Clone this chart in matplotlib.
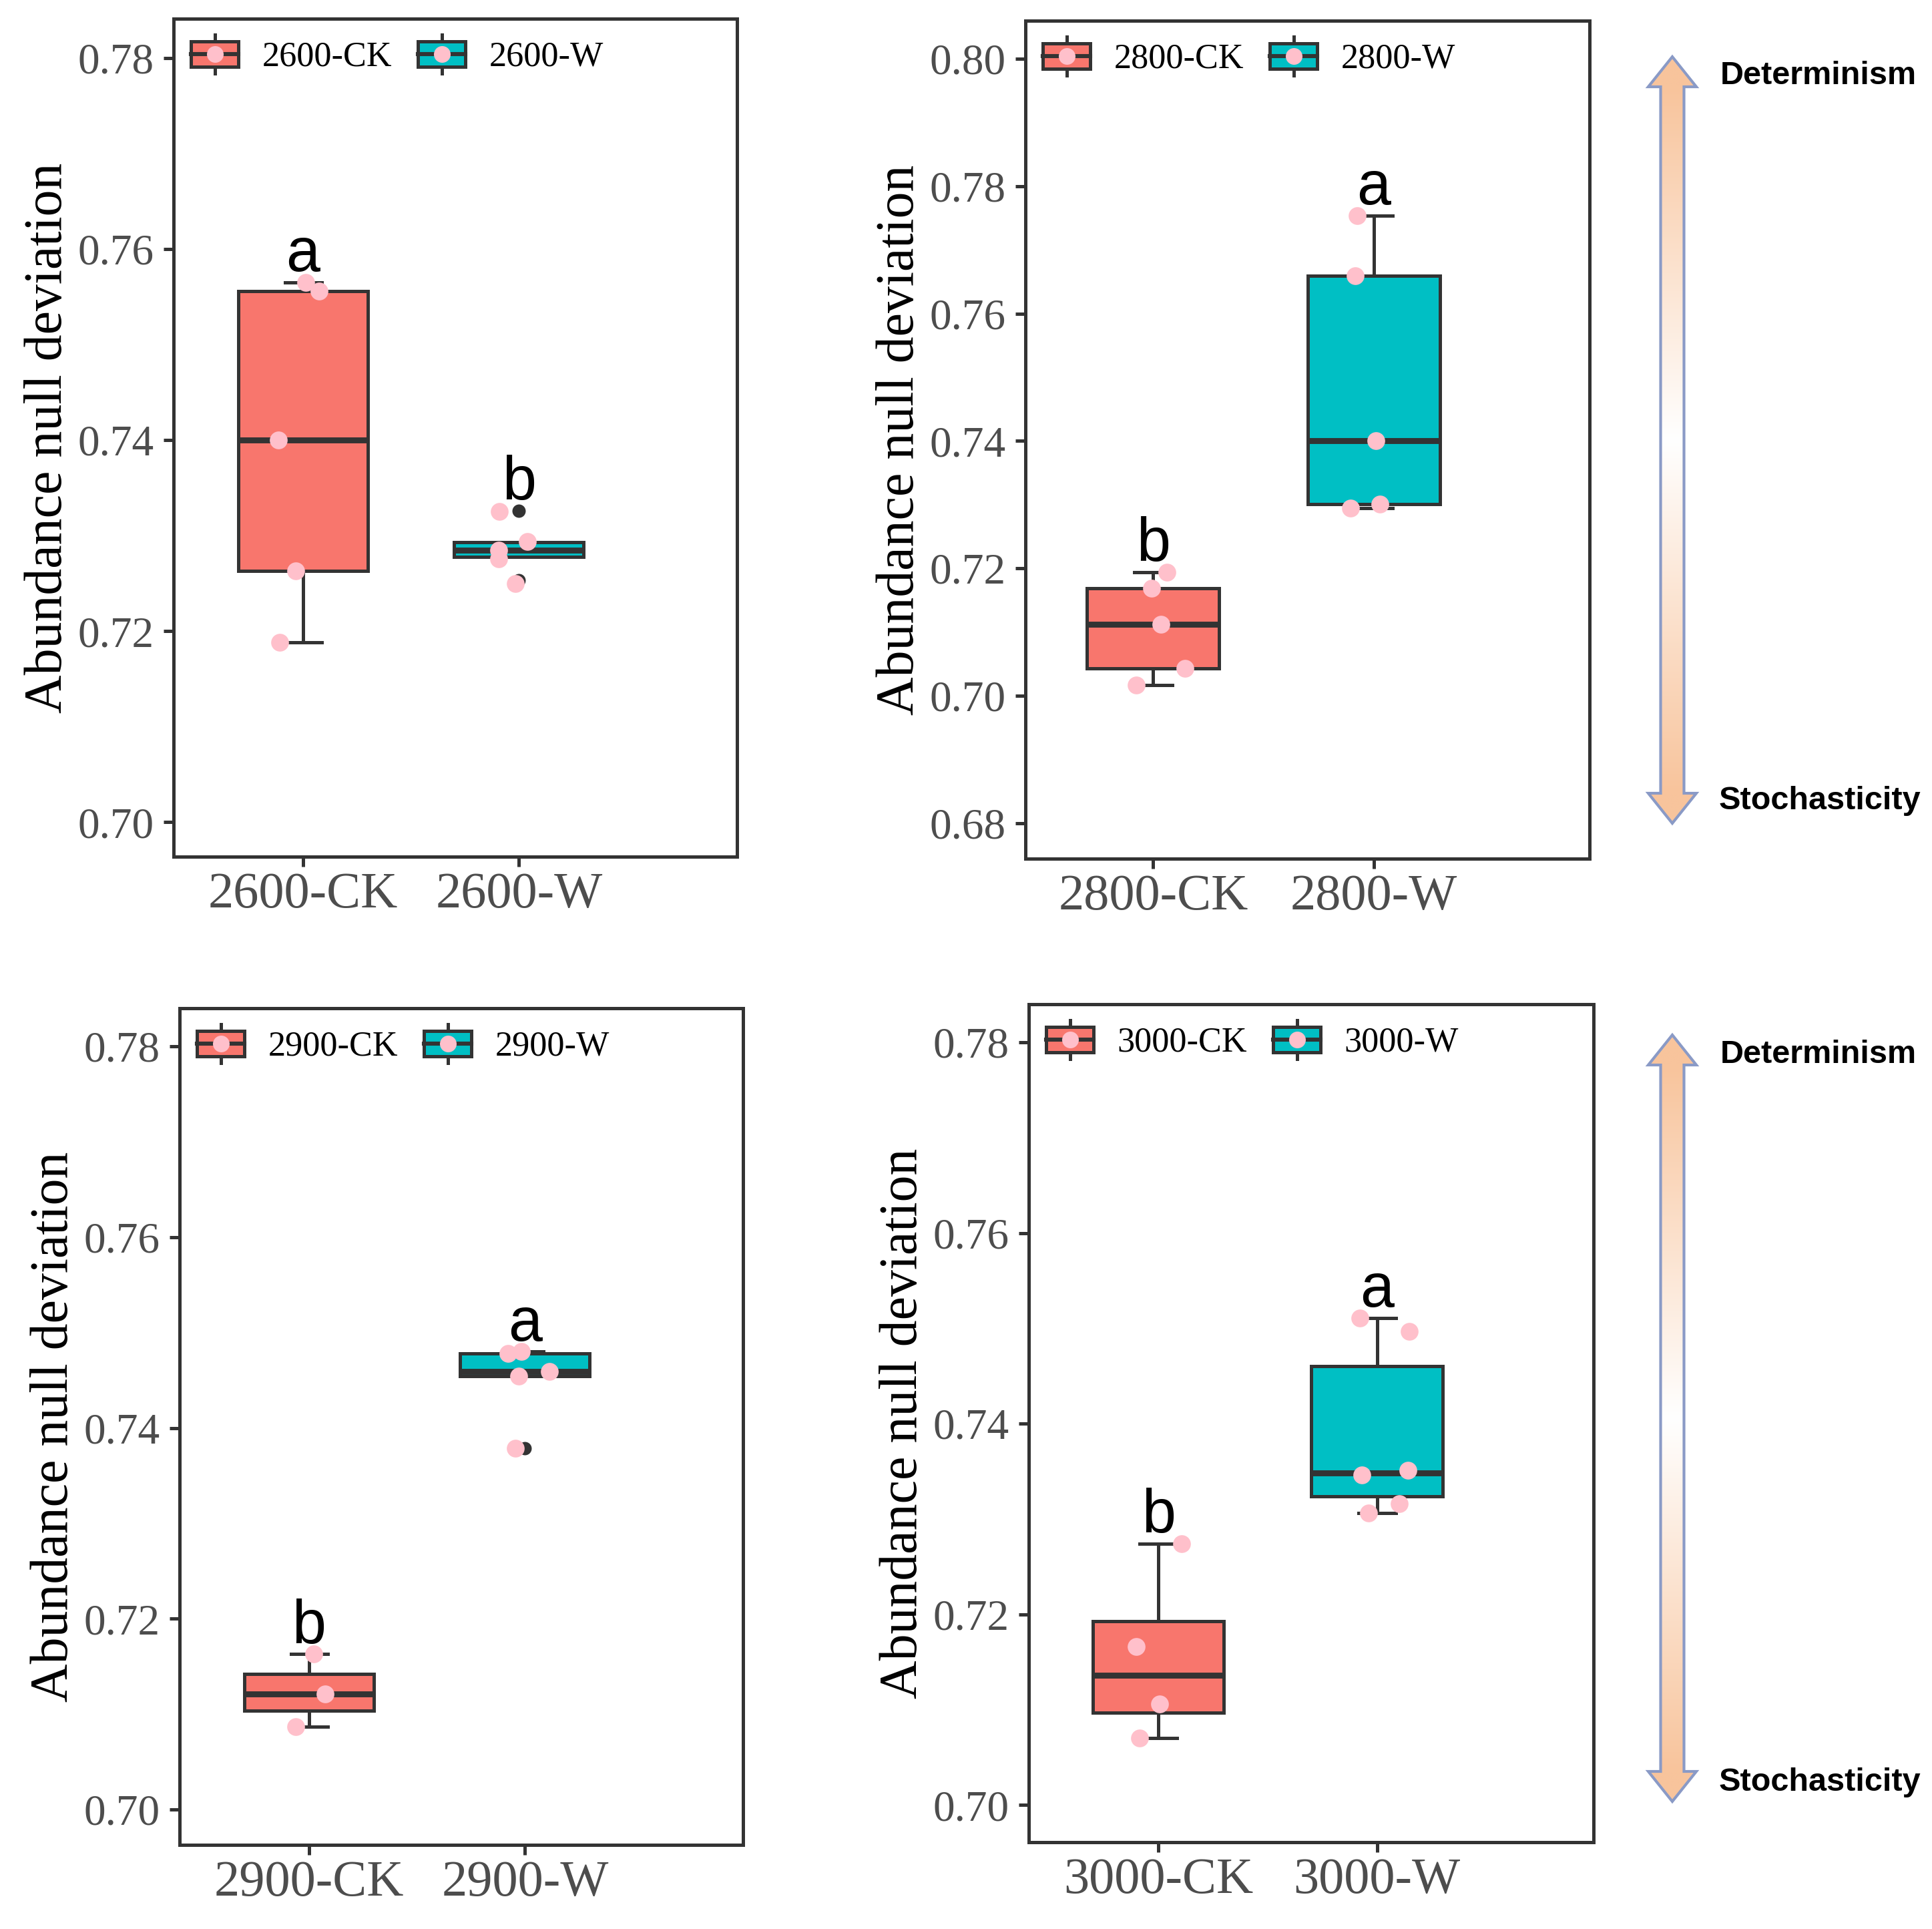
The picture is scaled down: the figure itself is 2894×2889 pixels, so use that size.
import numpy as np
import matplotlib
matplotlib.use('Agg')
import matplotlib.pyplot as plt
from matplotlib import font_manager
from matplotlib.legend_handler import HandlerBase
from matplotlib.patches import Rectangle, Patch, Polygon
from matplotlib.lines import Line2D

plt.rcParams['font.family'] = ['Liberation Serif', 'DejaVu Serif']

# ---- values ----
groups_2600 = ['2600-CK', '2600-W']
groups_2800 = ['2800-CK', '2800-W']
groups_2900 = ['2900-CK', '2900-W']
groups_3000 = ['3000-CK', '3000-W']

ck_2600 = [0.7565, 0.7556, 0.7400, 0.7263, 0.7188]
w_2600 = [0.7326, 0.7293, 0.7285, 0.7278, 0.7253]
ck_2800 = [0.7194, 0.7169, 0.7112, 0.7043, 0.7017]
w_2800 = [0.7754, 0.7659, 0.7400, 0.7301, 0.7295]
ck_2900 = [0.7163, 0.7121, 0.7087]
w_2900 = [0.7480, 0.7478, 0.7459, 0.7454, 0.7379]
ck_3000 = [0.7274, 0.7166, 0.7106, 0.7070]
w_3000 = [0.7511, 0.7497, 0.7351, 0.7346, 0.7316, 0.7306]

# horizontal / vertical jitter of the pink points (category units / data units)
jx_ck_2600 = [0.011, 0.074, -0.114, -0.034, -0.109]
jx_w_2600 = [-0.091, 0.038, -0.094, -0.094, -0.018]
jy_w_2600 = [-0.0001, 0.0001, 0.0, -0.0002, -0.0003]
jx_ck_2800 = [0.061, -0.006, 0.034, 0.145, -0.078]
jx_w_2800 = [-0.073, -0.084, 0.011, 0.028, -0.106]
jx_ck_2900 = [0.023, 0.074, -0.063]
jx_w_2900 = [-0.017, -0.080, 0.114, -0.029, -0.046]
jx_ck_3000 = [0.107, -0.102, 0.006, -0.085]
jx_w_3000 = [-0.079, 0.147, 0.141, -0.068, 0.102, -0.040]

letters_2600 = ['a', 'b']
letters_2800 = ['b', 'a']
letters_2900 = ['b', 'a']
letters_3000 = ['b', 'a']

yticks_a = [0.70, 0.72, 0.74, 0.76, 0.78]
yticks_b = [0.68, 0.70, 0.72, 0.74, 0.76, 0.78, 0.80]

CK_COL = '#F8766D'
W_COL = '#00BFC4'
PINK = '#FFC0CB'
DARK = '#333333'

W, H, DPI = 2894, 2889, 200
fig = plt.figure(figsize=(W / DPI, H / DPI), dpi=DPI)


def rect(l, r, t, b):
    return [l / W, 1 - b / H, (r - l) / W, (b - t) / H]


class BoxKey(HandlerBase):
    # legend key drawn like a ggplot boxplot glyph with a point on top
    def create_artists(self, legend, orig_handle, xdescent, ydescent,
                       width, height, fontsize, trans):
        x0, y0 = -xdescent, -ydescent
        cx, cy = x0 + width / 2, y0 + height / 2
        wl = Line2D([cx, cx], [y0, y0 + height], color=DARK, lw=1.8, transform=trans)
        box = Rectangle((x0, y0 + 0.17 * height), width, 0.66 * height,
                        facecolor=orig_handle.get_facecolor(), edgecolor=DARK, lw=1.8, transform=trans)
        med = Line2D([x0, x0 + width], [cy, cy], color=DARK, lw=2.2, transform=trans)
        dot = Line2D([cx], [cy], marker='o', ms=9, mfc=PINK, mec='none', ls='none', transform=trans)
        return [wl, box, med, dot]


panels = [
    dict(rect=rect(260, 1104, 28, 1283), groups=groups_2600, data=[ck_2600, w_2600],
         jx=[jx_ck_2600, jx_w_2600], jy=[None, jy_w_2600], letters=letters_2600,
         yticks=yticks_a, ylim=(0.6964, 0.7841), xlim=(0.4, 3.01)),
    dict(rect=rect(1536, 2381, 31, 1286), groups=groups_2800, data=[ck_2800, w_2800],
         jx=[jx_ck_2800, jx_w_2800], jy=[None, None], letters=letters_2800,
         yticks=yticks_b, ylim=(0.6744, 0.8060), xlim=(0.42, 2.98)),
    dict(rect=rect(269, 1113, 1510, 2763), groups=groups_2900, data=[ck_2900, w_2900],
         jx=[jx_ck_2900, jx_w_2900], jy=[None, None], letters=letters_2900,
         yticks=yticks_a, ylim=(0.6963, 0.7840), xlim=(0.4, 3.01)),
    dict(rect=rect(1541, 2387, 1504, 2759), groups=groups_3000, data=[ck_3000, w_3000],
         jx=[jx_ck_3000, jx_w_3000], jy=[None, None], letters=letters_3000,
         yticks=yticks_a, ylim=(0.6961, 0.7840), xlim=(0.407, 2.99)),
]

for p in panels:
    ax = fig.add_axes(p['rect'])
    pos = [1, 2]
    bp = ax.boxplot(p['data'], positions=pos, widths=0.6, patch_artist=True, whis=1.5,
                    capwidths=0.17,
                    boxprops=dict(edgecolor=DARK, linewidth=1.8),
                    medianprops=dict(color=DARK, linewidth=3.2),
                    whiskerprops=dict(color=DARK, linewidth=1.8),
                    capprops=dict(color=DARK, linewidth=1.8),
                    flierprops=dict(marker='o', markerfacecolor=DARK, markeredgecolor='none',
                                    markersize=7.2))
    for patch, col in zip(bp['boxes'], [CK_COL, W_COL]):
        patch.set_facecolor(col)
    for i, vals in enumerate(p['data']):
        jx = np.array(p['jx'][i])
        jy = np.zeros(len(vals)) if p['jy'][i] is None else np.array(p['jy'][i])
        ax.scatter(pos[i] + jx, np.array(vals) + jy, s=9.6 ** 2, color=PINK,
                   linewidths=0, zorder=4)
        ax.annotate(p['letters'][i], xy=(pos[i], max(vals)), xytext=(0, 6),
                    textcoords='offset points', ha='center', va='baseline',
                    fontsize=33, family='Liberation Sans', color='black')

    ax.set_xlim(*p['xlim'])
    ax.set_ylim(*p['ylim'])
    ax.set_xticks(pos)
    ax.set_xticklabels(p['groups'], fontsize=27.5, color='#4D4D4D')
    ax.set_yticks(p['yticks'])
    ax.set_yticklabels(['%.2f' % v for v in p['yticks']], fontsize=23.5, color='#4D4D4D')
    ax.tick_params(length=5.4, width=1.8, color=DARK, pad=5)
    ax.tick_params(axis='x', pad=3)
    for s in ax.spines.values():
        s.set_color(DARK)
        s.set_linewidth(1.8)
    ax.set_ylabel('Abundance null deviation', fontsize=28.7, color='black', labelpad=3)

    handles = [Patch(facecolor=CK_COL), Patch(facecolor=W_COL)]
    ax.legend(handles, p['groups'], handler_map={Patch: BoxKey()}, ncol=2,
              loc='upper left', bbox_to_anchor=(0.031, 0.981), borderaxespad=0, borderpad=0,
              frameon=False, fontsize=18.8, handlelength=1.355, handleheight=1.35,
              handletextpad=0.68, columnspacing=0.75)

# ---- the Determinism / Stochasticity arrows on the right ----
names = {f.name for f in font_manager.fontManager.ttflist}
if 'Liberation Sans Narrow' in names:
    side_font = dict(family='Liberation Sans Narrow', fontsize=21, fontweight='bold')
else:
    side_font = dict(family='Liberation Sans', fontsize=17.5, fontweight='bold')

over = fig.add_axes([0, 0, 1, 1])
over.set_xlim(0, W)
over.set_ylim(H, 0)
over.axis('off')
over.patch.set_visible(False)

peach = np.array([248, 196, 156]) / 255.0
cx, hl, hw, sw = 2505, 45, 36, 17.5
for yt, yb, t_top, t_bot in [(85, 1233, 113, 1200), (1550, 2698, 1580, 2669)]:
    pts = [(cx, yt), (cx + hw, yt + hl), (cx + sw, yt + hl), (cx + sw, yb - hl),
           (cx + hw, yb - hl), (cx, yb), (cx - hw, yb - hl), (cx - sw, yb - hl),
           (cx - sw, yt + hl), (cx - hw, yt + hl)]
    poly = Polygon(pts, closed=True, facecolor='none', edgecolor='#8A9AC6', lw=1.5, zorder=3)
    over.add_patch(poly)
    d = np.abs(np.linspace(-1, 1, 400))[:, None]
    d = np.clip(d / 0.92, 0, 1)
    grad = 1 - (1 - peach)[None, :] * d
    img = over.imshow(grad[:, None, :], extent=(cx - hw, cx + hw, yb, yt), origin='upper',
                      aspect='auto', zorder=2, interpolation='bilinear')
    img.set_clip_path(poly)
    over.text(2577, t_top, 'Determinism', ha='left', va='center', color='black', **side_font)
    over.text(2575, t_bot, 'Stochasticity', ha='left', va='center', color='black', **side_font)
over.set_xlim(0, W)
over.set_ylim(H, 0)

fig.savefig('out.png', dpi=DPI, facecolor='white')
